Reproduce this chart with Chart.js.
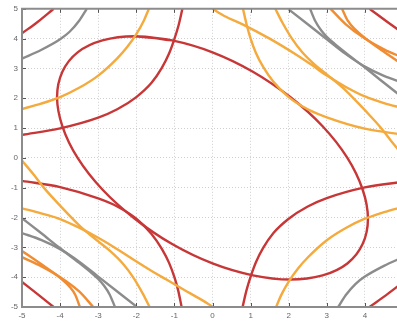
<!DOCTYPE html>
<html><head><meta charset="utf-8">
<script src="https://cdn.jsdelivr.net/npm/chart.js@4"></script>
<style>
html,body{margin:0;padding:0;overflow:hidden;background:#fff}
#wrap{width:397px;height:321px;overflow:hidden;position:relative}
canvas{position:absolute;left:0;top:0}
</style></head>
<body><div id="wrap"><canvas id="c" width="410" height="321" style="width:410px;height:321px"></canvas></div>
<script>
// tick values
const xTicks = [-5,-4,-3,-2,-1,0,1,2,3,4,5];
const yTicks = [-5,-4,-3,-2,-1,0,1,2,3,4,5];

// red curves
const redEllipse = [[-2.04,4.08],[-1.06,3.94],[0,3.54],[1.06,2.89],[2.04,2.04],[2.89,1.06],[3.54,0],[3.94,-1.06],[4.08,-2.04],[3.94,-2.89],[3.54,-3.54],[2.89,-3.94],[2.04,-4.08],[1.06,-3.94],[0,-3.54],[-1.06,-2.89],[-2.04,-2.04],[-2.89,-1.06],[-3.54,0],[-3.94,1.06],[-4.08,2.04],[-3.94,2.89],[-3.54,3.54],[-2.89,3.94],[-2.04,4.08],[-1.06,3.94]];
const redA = [[-5,0.77],[-4,0.99],[-3,1.35],[-2.5,1.63],[-2,2.04],[-1.6,2.52],[-1.33,3.02],[-1.14,3.5],[-1.01,3.95],[-0.89,4.45],[-0.79,5]];
const redA2 = [[0.79,-5],[0.89,-4.45],[1.01,-3.95],[1.14,-3.5],[1.33,-3.02],[1.6,-2.52],[2,-2.04],[2.5,-1.63],[3,-1.35],[4,-0.99],[5,-0.8]];
const redC = [[-5,-0.77],[-4,-0.98],[-3,-1.36],[-2.5,-1.63],[-2,-2.04],[-1.6,-2.55],[-1.33,-3.05],[-1.14,-3.52],[-1.0,-4.0],[-0.9,-4.45],[-0.81,-5]];
const redTL = [[-5,4.18],[-4.6,4.55],[-4.17,5]];
const redBL = [[-5,-4.16],[-4.6,-4.56],[-4.17,-5]];
const redTR = [[4.12,5],[4.6,4.55],[5,4.18]];
const redBR = [[4.12,-5],[4.6,-4.56],[5,-4.17]];

// gray curves
const grayTL = [[-5,3.33],[-4.5,3.62],[-4,3.98],[-3.75,4.23],[-3.5,4.6],[-3.3,5]];
const grayBR = [[3.3,-5],[3.5,-4.6],[3.75,-4.23],[4,-3.98],[4.5,-3.62],[5,-3.33]];
const grayBL1 = [[-5,-2.02],[-4.5,-2.52],[-4,-3.03],[-3.5,-3.52],[-3.2,-3.83],[-3,-4.06],[-2.85,-4.28],[-2.7,-4.58],[-2.56,-5]];
const grayBL2 = [[-5,-2.52],[-4.5,-2.75],[-4,-3.06],[-3.5,-3.48],[-3,-3.98],[-2.5,-4.48],[-2,-4.98]];
const grayTR1 = [[2.56,5],[2.7,4.58],[2.85,4.28],[3,4.06],[3.2,3.83],[3.5,3.52],[4,3.03],[4.5,2.52],[5,2.02]];
const grayTR2 = [[2,4.98],[2.5,4.48],[3,3.98],[3.5,3.48],[4,3.06],[4.5,2.75],[5,2.52]];

// light orange curves
const orangeTL = [[-5,1.64],[-4.5,1.82],[-4,2.04],[-3.5,2.35],[-3,2.76],[-2.5,3.34],[-2.25,3.7],[-2,4.15],[-1.8,4.61],[-1.67,5]];
const orangeBR = [[1.67,-5],[1.8,-4.61],[2,-4.15],[2.25,-3.7],[2.5,-3.34],[3,-2.76],[3.5,-2.35],[4,-2.04],[4.5,-1.82],[5,-1.64]];
const orangeBL1 = [[-5,-0.09],[-4.7,-0.55],[-4.44,-0.98],[-4,-1.6],[-3.5,-2.26],[-3,-2.8],[-2.69,-3.12],[-2.35,-3.55],[-2.09,-3.99],[-1.83,-4.55],[-1.65,-5]];
const orangeBL2 = [[-5,-1.69],[-4.5,-1.86],[-4,-2.05],[-3.5,-2.34],[-3,-2.68],[-2.5,-3.06],[-2.09,-3.4],[-1.65,-3.75],[-1.21,-4.08],[-0.75,-4.42],[-0.34,-4.72],[0.02,-5]];
const orangeTR1 = [[1.65,5],[1.83,4.55],[2.09,3.99],[2.35,3.55],[2.69,3.12],[3,2.8],[3.5,2.26],[4,1.6],[4.44,0.98],[4.7,0.55],[5,0.09]];
const orangeTR2 = [[0,5],[0.34,4.74],[0.79,4.48],[1.5,4.0],[2.2,3.46],[2.6,3.12],[3,2.76],[3.5,2.38],[4,2.06],[4.5,1.84],[5,1.67]];
const orangeC = [[0.8,5],[0.9,4.45],[1.0,4.0],[1.14,3.52],[1.33,3.05],[1.6,2.55],[2,2.04],[2.5,1.63],[3,1.36],[4,0.98],[5,0.78]];

// dark orange curves
const darkBLa = [[-5,-3.12],[-4.5,-3.56],[-4,-4.02],[-3.75,-4.32],[-3.6,-4.6],[-3.48,-5]];
const darkBLb = [[-5,-3.33],[-4.5,-3.63],[-4,-4.0],[-3.5,-4.48],[-3.13,-5]];
const darkTRa = [[3.4,5],[3.55,4.6],[3.75,4.3],[4,4.02],[4.5,3.56],[5,3.12]];
const darkTRb = [[3.1,5],[3.5,4.48],[4,4.0],[4.5,3.64],[5,3.36]];

const RED = 'rgb(200,55,55)', ORANGE = 'rgb(244,170,60)', DARK = 'rgb(240,140,50)', GRAY = 'rgb(140,140,140)';
const curves = [
  [orangeTL, ORANGE],[orangeBR, ORANGE],[orangeBL1, ORANGE],[orangeBL2, ORANGE],[orangeTR1, ORANGE],[orangeTR2, ORANGE],[orangeC, ORANGE],
  [darkBLa, DARK],[darkBLb, DARK],[darkTRa, DARK],[darkTRb, DARK],
  [grayTL, GRAY],[grayBR, GRAY],[grayBL1, GRAY],[grayBL2, GRAY],[grayTR1, GRAY],[grayTR2, GRAY],
  [redEllipse, RED, true],[redA, RED],[redA2, RED],[redC, RED],[redTL, RED],[redBL, RED],[redTR, RED],[redBR, RED]
];

const framePlugin = {
  id: 'frame',
  afterDatasetsDraw(chart) {
    const {ctx, chartArea: a, scales: {x, y}} = chart;
    ctx.save();
    ctx.strokeStyle = '#555';
    ctx.lineWidth = 1;
    ctx.beginPath();
    x.ticks.forEach(t => {
      const px = Math.round(x.getPixelForValue(t.value)) + 0.5;
      ctx.moveTo(px, a.bottom); ctx.lineTo(px, a.bottom - 4);
      ctx.moveTo(px, a.top); ctx.lineTo(px, a.top + 4);
    });
    y.ticks.forEach(t => {
      const py = Math.round(y.getPixelForValue(t.value)) + 0.5;
      ctx.moveTo(a.left, py); ctx.lineTo(a.left + 4, py);
    });
    ctx.stroke();
    ctx.strokeStyle = '#8c8c8c';
    ctx.lineWidth = 2;
    ctx.beginPath();
    ctx.moveTo(a.right, a.top); ctx.lineTo(a.left, a.top); ctx.lineTo(a.left, a.bottom); ctx.lineTo(a.right, a.bottom);
    ctx.stroke();
    ctx.restore();
  }
};

const axisCommon = {
  type: 'linear', min: -5, max: 5,
  grid: { color: '#cfcfcf', lineWidth: 1, drawTicks: false },
  border: { display: false, dash: [1, 2] },
  ticks: { color: '#666', font: { family: 'Liberation Sans, Arial, sans-serif', size: 8 }, padding: 4, autoSkip: false, maxRotation: 0 }
};

new Chart(document.getElementById('c'), {
  type: 'scatter',
  data: {
    datasets: curves.map(([pts, col, closed]) => ({
      data: pts.map(([x, y]) => ({x, y})),
      showLine: true, borderColor: col, borderWidth: 2.4, pointRadius: 0, fill: false,
      tension: 0.4, cubicInterpolationMode: closed ? 'default' : 'monotone'
    }))
  },
  options: {
    responsive: false, animation: false, devicePixelRatio: 1,
    layout: { padding: { left: 0, top: 8, right: 7, bottom: 0 } },
    elements: { line: { capBezierPoints: false } },
    plugins: { legend: { display: false }, tooltip: { enabled: false } },
    scales: {
      x: Object.assign({}, axisCommon, {
        afterBuildTicks: s => { s.ticks = xTicks.map(v => ({value: v})); },
        afterFit: s => { s.height = 14; }
      }),
      y: Object.assign({}, axisCommon, {
        afterBuildTicks: s => { s.ticks = yTicks.map(v => ({value: v})); },
        afterFit: s => { s.width = 22; }
      })
    }
  },
  plugins: [framePlugin]
});
</script>
</body></html>
